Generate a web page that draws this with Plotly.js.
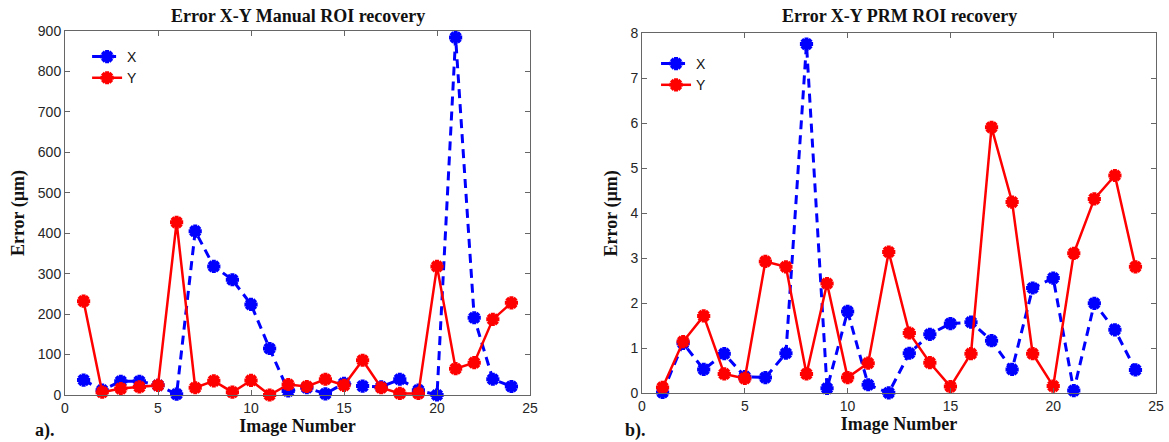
<!DOCTYPE html>
<html>
<head>
<meta charset="utf-8">
<script src="https://cdn.plot.ly/plotly-3.0.1.min.js"></script>
<style>html,body{margin:0;padding:0;background:#fff;}#chart{width:1169px;height:442px;}</style>
</head>
<body>
<div id="chart"></div>
<script>
// Image numbers
const imageNumber = [1,2,3,4,5,6,7,8,9,10,11,12,13,14,15,16,17,18,19,20,21,22,23,24];
// a) Manual ROI recovery (µm)
const manualX = [37,12,34,34,24,2,405,318,285,224,115,10,18,3,29,22,20,39,12,0,884,191,39,21];
const manualY = [232,7,16,20,24,427,18,35,7,36,0,26,21,39,24,86,18,4,4,318,65,80,187,228];
// b) PRM ROI recovery (µm)
const prmX = [0.02,1.11,0.53,0.88,0.37,0.35,0.89,7.76,0.11,1.82,0.19,0.01,0.89,1.31,1.55,1.58,1.17,0.53,2.34,2.56,0.06,2.0,1.41,0.52];
const prmY = [0.13,1.15,1.72,0.43,0.33,2.93,2.81,0.43,2.44,0.35,0.67,3.14,1.34,0.68,0.15,0.88,5.91,4.25,0.88,0.16,3.11,4.32,4.84,2.81];

const titles = ["Error X-Y Manual ROI recovery", "Error X-Y PRM ROI recovery"];
const panelLabels = ["a).", "b)."];
const xTitle = "Image Number";
const yTitle = "Error (µm)";

const blue = "#0000ff", red = "#ff0000";
const serif = "Liberation Serif, Times New Roman, serif";
const sans = "Liberation Sans, Arial, sans-serif";

function xTrace(y, xa, ya, lg){
  return {x: imageNumber, y: y, xaxis: xa, yaxis: ya, name: "X", legend: lg,
    mode: "lines+markers", cliponaxis: false,
    line: {color: blue, width: 3, dash: "9px,6px"},
    marker: {symbol: "asterisk-open", size: 11, color: blue, line: {color: blue, width: 4}}};
}
function yTrace(y, xa, ya, lg){
  return {x: imageNumber, y: y, xaxis: xa, yaxis: ya, name: "Y", legend: lg,
    mode: "lines+markers", cliponaxis: false,
    line: {color: red, width: 2.5},
    marker: {symbol: "asterisk-open", size: 11, color: red, line: {color: red, width: 4}}};
}

const data = [
  xTrace(manualX, "x", "y", "legend"), yTrace(manualY, "x", "y", "legend"),
  xTrace(prmX, "x2", "y2", "legend2"), yTrace(prmY, "x2", "y2", "legend2")
];

function xAxis(dom, anchor){
  return {domain: dom, anchor: anchor, range: [0,25], dtick: 5, tick0: 0,
    showgrid: false, zeroline: false, showline: true, mirror: "ticks",
    linecolor: "#666", linewidth: 1, ticks: "inside", ticklen: 5, tickcolor: "#666",
    tickfont: {family: sans, size: 14, color: "#262626"}, automargin: false,
    title: {text: xTitle, font: {family: serif, size: 18, color: "#111", weight: "bold"}, standoff: 2}};
}
function yAxis(dom, anchor, range, dtick){
  return {domain: dom, anchor: anchor, range: range, dtick: dtick, tick0: 0,
    showgrid: false, zeroline: false, showline: true, mirror: "ticks",
    linecolor: "#666", linewidth: 1, ticks: "inside", ticklen: 5, tickcolor: "#666",
    tickfont: {family: sans, size: 14, color: "#262626"}, automargin: false,
    title: {text: yTitle, font: {family: serif, size: 18, color: "#111", weight: "bold"}, standoff: 8}};
}

const layout = {
  width: 1169, height: 442,
  margin: {l: 0, r: 0, t: 0, b: 0},
  paper_bgcolor: "#fff", plot_bgcolor: "#fff",
  xaxis: xAxis([0.0556, 0.4534], "y"),
  yaxis: yAxis([0.1063, 0.9299], "x", [0, 900], 100),
  xaxis2: xAxis([0.5492, 0.9889], "y2"),
  yaxis2: yAxis([0.1102, 0.9247], "x2", [0, 8], 1),
  legend: {x: 0.0745, y: 0.9073, xanchor: "left", yanchor: "top", bgcolor: "rgba(0,0,0,0)",
    font: {family: sans, size: 14, color: "#111"}},
  legend2: {x: 0.5612, y: 0.8914, xanchor: "left", yanchor: "top", bgcolor: "rgba(0,0,0,0)",
    font: {family: sans, size: 14, color: "#111"}},
  annotations: [
    {text: titles[0], xref: "paper", yref: "paper", x: (0.0556+0.4534)/2, y: 1-16/442, xanchor: "center", yanchor: "middle", showarrow: false,
     font: {family: serif, size: 18, color: "#111", weight: "bold"}},
    {text: titles[1], xref: "paper", yref: "paper", x: (0.5492+0.9889)/2, y: 1-16/442, xanchor: "center", yanchor: "middle", showarrow: false,
     font: {family: serif, size: 18, color: "#111", weight: "bold"}},
    {text: panelLabels[0], xref: "paper", yref: "paper", x: 45/1169, y: 1-430/442, xanchor: "center", yanchor: "middle", showarrow: false,
     font: {family: serif, size: 18, color: "#111", weight: "bold"}},
    {text: panelLabels[1], xref: "paper", yref: "paper", x: 635/1169, y: 1-430/442, xanchor: "center", yanchor: "middle", showarrow: false,
     font: {family: serif, size: 18, color: "#111", weight: "bold"}}
  ],
  showlegend: true
};

Plotly.newPlot("chart", data, layout, {displayModeBar: false, staticPlot: true});
</script>
</body>
</html>
